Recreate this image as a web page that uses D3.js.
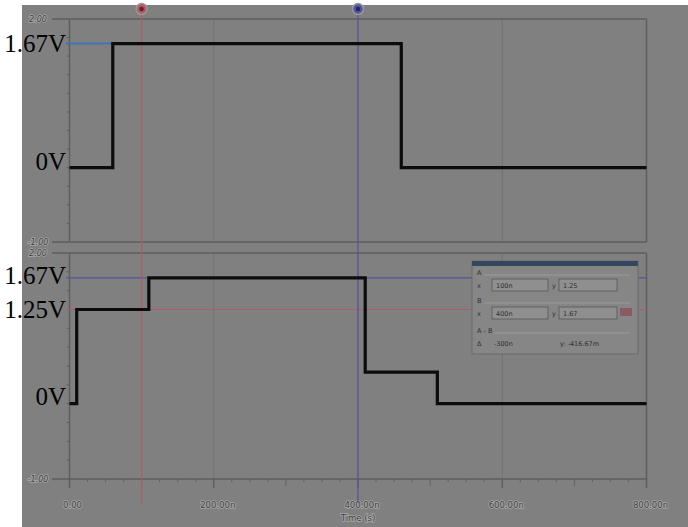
<!DOCTYPE html>
<html>
<head>
<meta charset="utf-8">
<script src="https://cdn.jsdelivr.net/npm/d3@7/dist/d3.min.js"></script>
<style>
  html, body { margin: 0; padding: 0; background: #ffffff; }
  svg { display: block; }
</style>
</head>
<body>
<svg id="chart" width="688" height="527"></svg>
<script>
// Time axis (ns)
const timeTicks = [0, 200, 400, 600, 800];
const timeTickLabels = ["0.00", "200.00n", "400.00n", "600.00n", "800.00n"];
const voltTicks = [2, -1];
const voltTickLabels = ["2.00", "-1.00"];

// Channel 1: input pulse (step after each time)
const inputTimes = [0, 60, 460, 800];
const inputVolts = [0, 1.67, 0, 0];

// Channel 2: output staircase
const outputTimes = [0, 10, 110, 410, 510, 800];
const outputVolts = [0, 1.25, 1.67, 0.42, 0, 0];

// Cursors
const cursorNames = ["A", "B"];
const cursorTimes = [100, 400];
const cursorLevels = [1.25, 1.67];
const cursorColors = ["#b25868", "#54549e"];

// Level annotations
const topLevelLabels = ["1.67V", "0V"];
const topLevelValues = [1.67, 0];
const bottomLevelLabels = ["1.67V", "1.25V", "0V"];
const bottomLevelValues = [1.67, 1.25, 0];

// Cursor readout
const readoutX = ["100n", "400n", "-300n"];
const readoutY = ["1.25", "1.67", "-416.67m"];

const svg = d3.select("#chart");
const bg = "#808080";
const frameColor = "#5e5e5e";

svg.append("rect").attr("x", 22).attr("y", 5).attr("width", 666).attr("height", 522).attr("fill", bg);

const x = d3.scaleLinear().domain([0, 800]).range([69.5, 646.5]);
const yTop = d3.scaleLinear().domain([-1, 2]).range([242, 19]);
const yBot = d3.scaleLinear().domain([-1, 2]).range([479, 253]);

function drawPanel(y) {
  const g = svg.append("g");
  // vertical grid
  g.selectAll(".vg").data(timeTicks.slice(1, -1)).join("line")
    .attr("x1", d => x(d)).attr("x2", d => x(d))
    .attr("y1", y.range()[1]).attr("y2", y.range()[0])
    .attr("stroke", "#707070").attr("stroke-width", 1);
  // frame
  g.append("line").attr("x1", x(0)).attr("x2", x(0)).attr("y1", y(2)).attr("y2", y(-1))
    .attr("stroke", frameColor).attr("stroke-width", 1.5);
  g.append("line").attr("x1", x(800)).attr("x2", x(800)).attr("y1", y(2)).attr("y2", y(-1))
    .attr("stroke", frameColor).attr("stroke-width", 1.5);
  g.selectAll(".hf").data(voltTicks).join("line")
    .attr("x1", 52).attr("x2", x(800))
    .attr("y1", d => y(d)).attr("y2", d => y(d))
    .attr("stroke", frameColor).attr("stroke-width", 1.5);
  // minor ticks on the voltage axis
  g.selectAll(".mt").data(d3.range(-0.75, 2, 0.25)).join("line")
    .attr("x1", x(0) - 3).attr("x2", x(0))
    .attr("y1", d => y(d)).attr("y2", d => y(d))
    .attr("stroke", frameColor).attr("stroke-width", 1);
  g.selectAll(".yl").data(voltTicks).join("text")
    .attr("x", 38).attr("y", d => y(d) + 3)
    .attr("text-anchor", "middle")
    .attr("font-family", "DejaVu Sans, sans-serif").attr("font-size", 8).attr("font-style", "italic")
    .attr("fill", "#3e3e3e").attr("stroke", "#a8a8a8").attr("stroke-width", 1.6).attr("paint-order", "stroke")
    .text((d, i) => voltTickLabels[i]);
  return g;
}

drawPanel(yTop);
drawPanel(yBot);

// time axis ticks
const axisG = svg.append("g");
axisG.selectAll(".mj").data(timeTicks).join("line")
  .attr("x1", d => x(d)).attr("x2", d => x(d)).attr("y1", 479).attr("y2", 488)
  .attr("stroke", frameColor).attr("stroke-width", 1.5);
axisG.selectAll(".mn").data(d3.range(25, 800, 25).filter(t => t % 200 !== 0)).join("line")
  .attr("x1", d => x(d)).attr("x2", d => x(d)).attr("y1", 479).attr("y2", d => d % 100 === 0 ? 486 : 482)
  .attr("stroke", frameColor).attr("stroke-width", 1);
axisG.selectAll(".tl").data(timeTicks).join("text")
  .attr("x", d => x(d) + (d === 0 ? 3 : 4)).attr("y", 508)
  .attr("text-anchor", "middle")
  .attr("font-family", "DejaVu Sans, sans-serif").attr("font-size", 8.5)
  .attr("fill", "#3e3e3e").attr("stroke", "#a8a8a8").attr("stroke-width", 1.6).attr("paint-order", "stroke")
  .text((d, i) => timeTickLabels[i]);
axisG.append("text").attr("x", x(400)).attr("y", 521).attr("text-anchor", "middle")
  .attr("font-family", "DejaVu Sans, sans-serif").attr("font-size", 8.5)
  .attr("fill", "#3e3e3e").attr("stroke", "#a8a8a8").attr("stroke-width", 1.6).attr("paint-order", "stroke")
  .text("Time (s)");

// horizontal cursor levels in the lower panel
svg.selectAll(".hc").data(cursorLevels).join("line")
  .attr("x1", 66).attr("x2", x(800))
  .attr("y1", d => yBot(d)).attr("y2", d => yBot(d))
  .attr("stroke", (d, i) => cursorColors[i]).attr("stroke-width", 1.2);

// vertical cursors
svg.selectAll(".vc").data(cursorTimes).join("line")
  .attr("x1", d => x(d)).attr("x2", d => x(d)).attr("y1", 9).attr("y2", 503)
  .attr("stroke", (d, i) => cursorColors[i]).attr("stroke-width", 1.2);
svg.selectAll(".vcm").data(cursorTimes).join("circle")
  .attr("cx", d => x(d)).attr("cy", 9).attr("r", 5.5)
  .attr("fill", (d, i) => cursorColors[i]).attr("stroke", "#9a9a9a").attr("stroke-width", 1.5);
svg.selectAll(".vcc").data(cursorTimes).join("circle")
  .attr("cx", d => x(d)).attr("cy", 9).attr("r", 2.2)
  .attr("fill", (d, i) => i === 0 ? "#6e1e28" : "#24245e");

// level annotation in the top panel
svg.append("line").attr("x1", 66).attr("x2", x(60)).attr("y1", yTop(1.67)).attr("y2", yTop(1.67))
  .attr("stroke", "#3f73b8").attr("stroke-width", 2);

// traces
const lineTop = d3.line().x(d => x(d[0])).y(d => yTop(d[1])).curve(d3.curveStepAfter);
const lineBot = d3.line().x(d => x(d[0])).y(d => yBot(d[1])).curve(d3.curveStepAfter);
svg.append("path").attr("d", lineTop(d3.zip(inputTimes, inputVolts)))
  .attr("fill", "none").attr("stroke", "#0c0c0c").attr("stroke-width", 3.2);
svg.append("path").attr("d", lineBot(d3.zip(outputTimes, outputVolts)))
  .attr("fill", "none").attr("stroke", "#0c0c0c").attr("stroke-width", 3.2);

// level labels
function levelLabels(labels, values, y, dy) {
  svg.selectAll(null).data(values).join("text")
    .attr("x", 66).attr("y", (d, i) => y(d) + dy[i])
    .attr("text-anchor", "end")
    .attr("font-family", "Liberation Serif, Times New Roman, serif").attr("font-size", 25)
    .attr("fill", "#000")
    .text((d, i) => labels[i]);
}
levelLabels(topLevelLabels, topLevelValues, yTop, [8, 2]);
levelLabels(bottomLevelLabels, bottomLevelValues, yBot, [6, 8, 1]);

// cursor readout panel
const rp = svg.append("g").attr("transform", "translate(472,261)");
rp.append("rect").attr("width", 166).attr("height", 93).attr("fill", "#868686").attr("stroke", "#6a6a6a");
rp.append("rect").attr("width", 166).attr("height", 5).attr("fill", "#34475f");
const small = sel => sel.attr("font-family", "DejaVu Sans, sans-serif").attr("font-size", 6.5).attr("fill", "#303030");
const rows = [0, 1];
rows.forEach(i => {
  const top = 8 + i * 28;
  rp.append("text").attr("x", 5).attr("y", top + 6).call(small).text(cursorNames[i]);
  rp.append("line").attr("x1", 12).attr("x2", 158).attr("y1", top + 6).attr("y2", top + 6).attr("stroke", "#9a9a9a");
  rp.append("text").attr("x", 5).attr("y", top + 19).call(small).text("x");
  rp.append("rect").attr("x", 20).attr("y", top + 10).attr("width", 56).attr("height", 12).attr("fill", "#8f8f8f")
    .attr("stroke", "#555").attr("stroke-width", 0.8);
  rp.append("text").attr("x", 24).attr("y", top + 19).call(small).text(readoutX[i]);
  rp.append("text").attr("x", 80).attr("y", top + 19).call(small).text("y");
  rp.append("rect").attr("x", 87).attr("y", top + 10).attr("width", 58).attr("height", 12).attr("fill", "#8f8f8f")
    .attr("stroke", "#555").attr("stroke-width", 0.8);
  rp.append("text").attr("x", 91).attr("y", top + 19).call(small).text(readoutY[i]);
});
rp.append("rect").attr("x", 148).attr("y", 47).attr("width", 12).attr("height", 8).attr("fill", "#8c5a62");
rp.append("text").attr("x", 5).attr("y", 72).call(small).text("A - B");
rp.append("line").attr("x1", 22).attr("x2", 158).attr("y1", 72).attr("y2", 72).attr("stroke", "#9a9a9a");
rp.append("text").attr("x", 5).attr("y", 85).call(small).text("Δ");
rp.append("text").attr("x", 22).attr("y", 85).call(small).text(readoutX[2]);
rp.append("text").attr("x", 88).attr("y", 85).call(small).text("y: " + readoutY[2]);
</script>
</body>
</html>
